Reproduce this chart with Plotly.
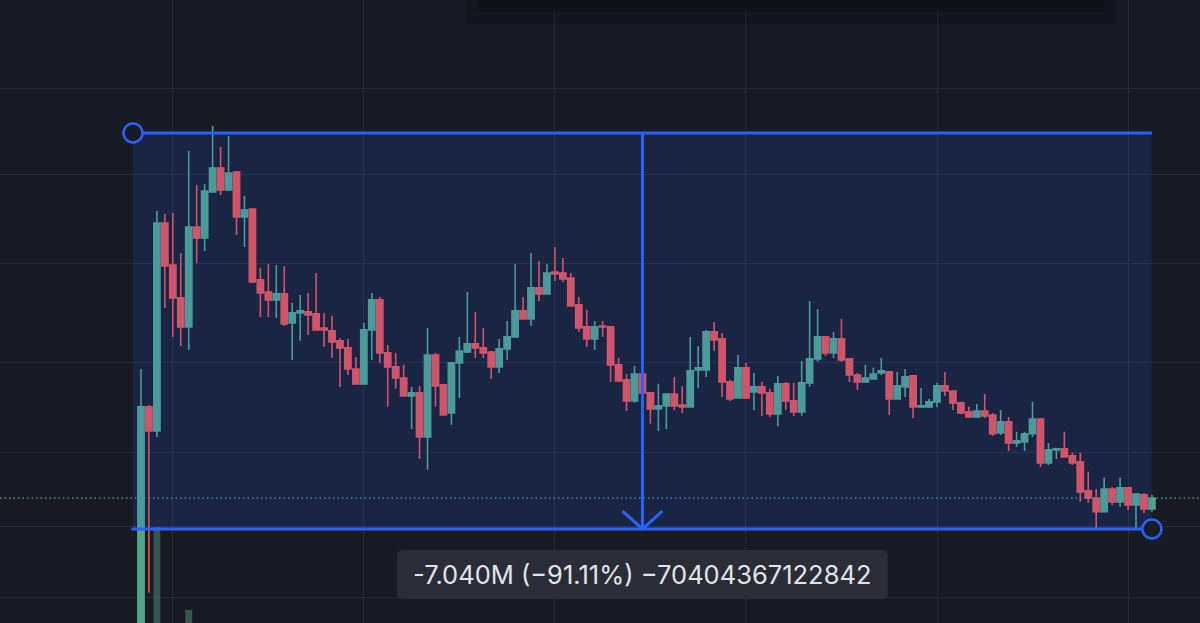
import math
import plotly.graph_objects as go

# ---------------- data (prices in millions) ----------------
opens = [0.30, 1.449, 1.251, 4.459, 3.450, 2.820, 2.362, 4.351, 4.068, 5.389,
         6.239, 5.455, 6.089, 4.626, 4.858, 3.148, 2.925, 2.786, 2.890, 2.420,
         2.573, 2.589, 2.558, 2.347, 2.305, 2.169, 2.078, 1.827, 1.668, 2.319,
         2.786, 2.015, 1.850, 1.729, 1.549, 1.578, 1.206, 1.990, 1.658, 1.396,
         1.896, 2.027, 2.129, 2.078, 2.027, 1.850, 2.065, 2.222, 2.605, 2.480,
         2.998, 2.890, 3.305, 3.285, 3.186, 2.702, 2.362, 2.195, 2.376, 2.362,
         1.873, 1.709, 1.503, 1.772, 1.578, 1.431, 1.458, 1.568, 1.466, 1.449,
         1.816, 1.816, 2.291, 2.195, 1.688, 1.530, 1.839, 1.587, 1.637, 1.578,
         1.388, 1.668, 1.503, 1.405, 1.678, 1.943, 2.222, 2.015, 2.195, 1.943,
         1.761, 1.688, 1.719, 1.783, 1.794, 1.521, 1.637, 1.751, 1.449, 1.449,
         1.494, 1.647, 1.597, 1.485, 1.405, 1.362, 1.413, 1.379, 1.236, 1.322,
         1.162, 1.170, 1.229, 1.346, 1.029, 1.114, 1.121, 1.074, 1.035, 0.867,
         0.830, 0.763, 0.877, 0.811, 0.883, 0.796, 0.846, 0.777]
highs = [1.827, 1.466, 4.799, 4.711, 4.740, 3.712, 6.923, 5.624, 5.659, 8.066,
         7.094, 7.588, 6.126, 5.259, 4.888, 3.387, 3.471, 3.450, 3.429, 2.735,
         2.872, 2.907, 3.285, 2.573, 2.527, 2.208, 2.195, 1.966, 2.420, 2.907,
         2.837, 2.116, 2.015, 1.873, 1.637, 1.647, 2.347, 2.015, 1.668, 1.900,
         2.222, 2.925, 2.589, 2.347, 2.039, 2.195, 2.450, 3.471, 2.837, 3.712,
         3.535, 3.471, 3.851, 3.601, 3.285, 2.837, 2.621, 2.450, 2.450, 2.365,
         1.954, 1.772, 1.861, 1.794, 1.580, 1.668, 1.570, 1.740, 1.647, 2.222,
         2.103, 2.319, 2.435, 2.277, 1.709, 1.990, 1.896, 1.783, 1.688, 1.618,
         1.751, 1.688, 1.678, 1.919, 2.769, 2.637, 2.236, 2.291, 2.480, 1.954,
         1.783, 1.873, 1.839, 1.954, 1.805, 1.794, 1.827, 1.761, 1.627, 1.521,
         1.678, 1.794, 1.607, 1.494, 1.449, 1.475, 1.568, 1.396, 1.422, 1.362,
         1.244, 1.244, 1.494, 1.354, 1.162, 1.128, 1.244, 1.094, 1.094, 0.974,
         0.877, 0.939, 0.888, 0.939, 0.888, 0.856, 0.856, 0.846]
lows = [0.28, 0.465, 1.206, 2.653, 2.222, 2.103, 2.052, 3.492, 3.758, 5.389,
        5.291, 5.422, 4.143, 3.851, 3.091, 2.511, 2.511, 2.496, 2.376, 1.931,
        2.169, 2.249, 2.310, 2.091, 1.954, 1.637, 1.761, 1.658, 1.658, 1.931,
        1.896, 1.449, 1.618, 1.545, 1.266, 1.054, 0.986, 1.449, 1.375, 1.298,
        1.530, 2.015, 1.954, 1.954, 1.719, 1.783, 1.931, 2.215, 2.475, 2.376,
        2.769, 2.885, 3.129, 3.110, 2.680, 2.291, 2.091, 2.052, 2.222, 1.688,
        1.688, 1.413, 1.485, 1.559, 1.306, 1.251, 1.266, 1.422, 1.396, 1.445,
        1.627, 1.740, 2.039, 1.540, 1.503, 1.525, 1.521, 1.422, 1.371, 1.362,
        1.290, 1.422, 1.371, 1.371, 1.637, 1.908, 1.978, 1.954, 1.908, 1.688,
        1.607, 1.678, 1.709, 1.761, 1.379, 1.518, 1.540, 1.354, 1.440, 1.440,
        1.445, 1.549, 1.422, 1.388, 1.354, 1.360, 1.354, 1.214, 1.221, 1.107,
        1.134, 1.107, 1.206, 1.004, 1.016, 1.054, 1.061, 1.016, 0.811, 0.806,
        0.687, 0.760, 0.796, 0.787, 0.772, 0.690, 0.758, 0.763]
closes = [1.449, 1.251, 4.459, 3.429, 2.820, 2.362, 4.351, 4.068, 5.422, 6.239,
          5.455, 6.052, 4.626, 4.828, 3.110, 2.907, 2.786, 2.890, 2.405, 2.573,
          2.605, 2.542, 2.319, 2.319, 2.155, 2.078, 1.827, 1.668, 2.319, 2.786,
          2.015, 1.850, 1.729, 1.549, 1.578, 1.206, 1.990, 1.647, 1.379, 1.896,
          2.039, 2.129, 2.078, 2.015, 1.850, 2.065, 2.222, 2.605, 2.480, 2.998,
          2.890, 3.285, 3.265, 3.167, 2.686, 2.347, 2.195, 2.362, 2.362, 1.873,
          1.699, 1.503, 1.772, 1.578, 1.431, 1.458, 1.568, 1.458, 1.449, 1.805,
          1.839, 2.291, 2.182, 1.688, 1.521, 1.839, 1.530, 1.637, 1.578, 1.388,
          1.668, 1.503, 1.405, 1.678, 1.943, 2.222, 2.015, 2.195, 1.931, 1.761,
          1.688, 1.729, 1.772, 1.805, 1.521, 1.647, 1.740, 1.449, 1.458, 1.494,
          1.647, 1.597, 1.485, 1.396, 1.362, 1.413, 1.371, 1.229, 1.322, 1.162,
          1.177, 1.229, 1.346, 1.029, 1.114, 1.121, 1.067, 1.029, 0.861, 0.830,
          0.763, 0.877, 0.811, 0.883, 0.796, 0.851, 0.777, 0.830]
bars = list(range(len(opens)))

# volume overlay (only bars tall enough to show)
vol_bars = [0, 2, 6]
vol_values = [30.0, 15.4, 2.1]

# measure tool
measure_start_bar = -1
measure_end_bar = 127
measure_top = 7.727
measure_bottom = 0.687
measure_text = "-7.040M (\u221291.11%) \u221270404367122842"

# grid positions
time_grid = [4, 28, 52, 76, 100, 124]
price_grid = [10.17, 5.98, 3.47, 1.90, 1.094, 0.696, 0.451]

# ---------------- styles ----------------
BG = "#181a24"
GRID = "#272b37"
UP = "#51a588"
DOWN = "#ef5350"
BLUE = "#2962ff"

X_RANGE = [-17.71, 133.04]
Y_LOG_RANGE = [-0.4126, 1.2410]

fig = go.Figure()

fig.add_trace(go.Bar(
    x=vol_bars, y=vol_values, width=0.85,
    marker=dict(color="rgba(81,165,136,0.45)", line=dict(width=0)),
    xaxis="x", yaxis="y", hoverinfo="skip"))

fig.add_trace(go.Candlestick(
    x=bars, open=opens, high=highs, low=lows, close=closes,
    increasing=dict(line=dict(color=UP, width=1.6), fillcolor=UP),
    decreasing=dict(line=dict(color=DOWN, width=1.6), fillcolor=DOWN),
    whiskerwidth=0, xaxis="x", yaxis="y2", hoverinfo="skip"))

# last price dotted line
fig.add_trace(go.Scatter(
    x=X_RANGE, y=[closes[-1], closes[-1]], mode="lines",
    line=dict(color=UP, width=1.3, dash="1.5px,3px"),
    xaxis="x", yaxis="y2", hoverinfo="skip"))

# measure box fill
mx0, mx1 = measure_start_bar, measure_end_bar
fig.add_trace(go.Scatter(
    x=[mx0, mx1, mx1, mx0, mx0],
    y=[measure_top, measure_top, measure_bottom, measure_bottom, measure_top],
    mode="lines", fill="toself", fillcolor="rgba(41,98,255,0.15)",
    line=dict(width=0), xaxis="x", yaxis="y2", hoverinfo="skip"))

# top / bottom lines
for yv in (measure_top, measure_bottom):
    fig.add_trace(go.Scatter(
        x=[mx0 - 0.2, mx1], y=[yv, yv], mode="lines",
        line=dict(color=BLUE, width=3), xaxis="x", yaxis="y2", hoverinfo="skip"))

# vertical arrow
mid = (mx0 + mx1) / 2
fig.add_trace(go.Scatter(
    x=[mid, mid], y=[measure_top, measure_bottom], mode="lines",
    line=dict(color=BLUE, width=3), xaxis="x", yaxis="y2", hoverinfo="skip"))
fig.add_trace(go.Scatter(
    x=[mid - 2.5, mid, mid + 2.5],
    y=[measure_bottom * 1.116, measure_bottom, measure_bottom * 1.116],
    mode="lines", line=dict(color=BLUE, width=3),
    xaxis="x", yaxis="y2", hoverinfo="skip"))

# handles
fig.add_trace(go.Scatter(
    x=[mx0, mx1], y=[measure_top, measure_bottom], mode="markers",
    marker=dict(size=19, color=BG, line=dict(color=BLUE, width=2.5)),
    xaxis="x", yaxis="y2", hoverinfo="skip"))

# label background (rounded) and text
fig.add_shape(
    type="path", xref="x", yref="y2", xsizemode="pixel", ysizemode="pixel",
    xanchor=mid, yanchor=measure_bottom,
    path=("M -239.5,-21 L 239.5,-21 Q 245.5,-21 245.5,-27 L 245.5,-64 "
          "Q 245.5,-70 239.5,-70 L -239.5,-70 Q -245.5,-70 -245.5,-64 "
          "L -245.5,-27 Q -245.5,-21 -239.5,-21 Z"),
    fillcolor="#2a2d38", line=dict(width=0), layer="above")
fig.add_annotation(
    x=mid, y=math.log10(measure_bottom), xref="x", yref="y2",
    text=measure_text, showarrow=False, yshift=-45.5, yanchor="middle",
    xanchor="center", font=dict(family="Inter", size=25.5, color="#e3e5ea"))

# dark pop-up edge at the very top
fig.add_shape(type="rect", xref="paper", yref="paper",
              x0=0.388, x1=0.930, y0=0.962, y1=1.01,
              fillcolor="rgba(8,9,13,0.22)", line=dict(width=0), layer="above")
fig.add_shape(type="rect", xref="paper", yref="paper",
              x0=0.398, x1=0.920, y0=0.982, y1=1.01,
              fillcolor="#0f1117", line=dict(width=0), layer="above")

fig.update_layout(
    width=1200, height=623,
    margin=dict(l=0, r=0, t=0, b=0, pad=0),
    paper_bgcolor=BG, plot_bgcolor=BG,
    showlegend=False, boxgap=0.22, boxgroupgap=0, bargap=0.1,
    xaxis=dict(range=X_RANGE, tickvals=time_grid, showticklabels=False,
               showgrid=True, gridcolor=GRID, gridwidth=1, zeroline=False,
               rangeslider=dict(visible=False), ticks="", showline=False),
    yaxis=dict(range=[0, 100], visible=False, showgrid=False, zeroline=False),
    yaxis2=dict(type="log", range=Y_LOG_RANGE, overlaying="y",
                tickvals=price_grid, showticklabels=False, showgrid=True,
                gridcolor=GRID, gridwidth=1, zeroline=False, ticks="",
                showline=False),
)

fig.write_html(
    "out.html",
    config={"displayModeBar": False, "staticPlot": True},
    post_script="document.body.style.margin='0px';"
                "document.body.style.background='%s';" % BG)
